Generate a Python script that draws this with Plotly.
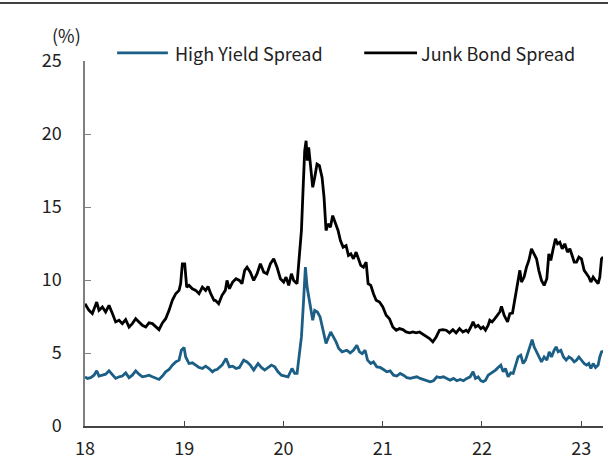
import plotly.graph_objects as go

# Decimal year (18 = 2018) and spread levels in %
hy_years = [
    18.00, 18.024, 18.057, 18.091, 18.118, 18.141, 18.175, 18.208, 18.242, 18.276,
    18.309, 18.343, 18.376, 18.41, 18.444, 18.477, 18.511, 18.544, 18.578, 18.612,
    18.645, 18.679, 18.712, 18.746, 18.78, 18.813, 18.847, 18.88, 18.914, 18.948,
    18.971, 18.998, 19.015, 19.048, 19.082, 19.116, 19.149, 19.183, 19.216, 19.25,
    19.284, 19.307,
    19.33, 19.381, 19.421, 19.455, 19.488, 19.522, 19.556, 19.599, 19.633, 19.666,
    19.70, 19.744, 19.777, 19.811, 19.845, 19.878, 19.912, 19.945, 19.979, 20.013,
    20.046, 20.086, 20.113, 20.137, 20.16, 20.181, 20.201, 20.221, 20.238, 20.254,
    20.275, 20.295, 20.315, 20.342, 20.369, 20.389, 20.409, 20.429, 20.449, 20.476,
    20.503, 20.53, 20.557, 20.591,
    20.638, 20.672, 20.705, 20.739, 20.766, 20.793, 20.823, 20.847, 20.88, 20.907,
    20.941, 20.974, 21.008, 21.041, 21.075, 21.109, 21.142, 21.176, 21.209, 21.243,
    21.277, 21.31, 21.344, 21.377, 21.411, 21.445, 21.478, 21.512, 21.545, 21.579,
    21.613, 21.646, 21.68, 21.713, 21.747, 21.781, 21.814, 21.848, 21.881,
    21.911, 21.935, 21.962, 21.989, 22.012, 22.036, 22.063, 22.09, 22.113, 22.137,
    22.163, 22.19, 22.214, 22.237, 22.264, 22.291, 22.315, 22.338, 22.365, 22.392,
    22.415, 22.439, 22.466, 22.493, 22.506, 22.526, 22.55, 22.573, 22.6, 22.627,
    22.654, 22.678, 22.701, 22.728, 22.748, 22.768, 22.795, 22.822, 22.849, 22.876,
    22.903, 22.93, 22.953, 22.977, 23.003, 23.03, 23.054, 23.077, 23.098, 23.121,
    23.145, 23.171, 23.188, 23.205, 23.222,
]
hy_spread = [
    3.37, 3.26, 3.31, 3.48, 3.78, 3.42, 3.48, 3.55, 3.78, 3.48,
    3.26, 3.37, 3.42, 3.64, 3.31, 3.48, 3.78, 3.55, 3.37, 3.42,
    3.48, 3.37, 3.26, 3.19, 3.42, 3.71, 3.87, 4.17, 4.39, 4.51,
    5.19, 5.37, 4.73, 4.28, 4.33, 4.17, 4.01, 3.94, 4.10, 3.94,
    3.71, 3.83,
    3.87, 4.17, 4.62, 4.05, 4.10, 3.94, 4.01, 4.51, 4.39, 4.17,
    3.83, 4.28, 4.01, 3.83, 4.01, 4.17, 4.05, 3.71, 3.48, 3.42,
    3.37, 3.94, 3.60, 3.60, 4.96, 6.10, 8.38, 10.88, 9.52, 8.83,
    7.92, 7.24, 7.92, 7.81, 7.47, 6.78, 6.33, 5.65, 5.99, 6.44,
    6.10, 5.76, 5.31, 5.08,
    5.19, 5.01, 5.19, 5.53, 5.08, 4.96, 5.19, 4.51, 4.28, 4.39,
    4.05, 4.01, 3.87, 3.71, 3.78, 3.48, 3.42, 3.60, 3.48, 3.31,
    3.26, 3.31, 3.37, 3.26, 3.19, 3.10, 3.03, 3.10, 3.37, 3.31,
    3.37, 3.26, 3.14, 3.26, 3.10, 3.19, 3.10, 3.26, 3.37,
    3.71, 3.26, 3.37, 3.10, 3.03, 3.14, 3.48, 3.60, 3.71, 3.83,
    4.01, 4.17, 3.71, 3.94, 3.37, 3.64, 3.60, 4.17, 4.73, 4.85,
    4.28, 4.51, 5.08, 5.65, 5.92, 5.42, 5.08, 4.73, 4.39, 4.73,
    4.51, 5.08, 4.73, 5.19, 5.42, 5.08, 5.19, 4.73, 4.51, 4.73,
    4.62, 4.39, 4.51, 4.73, 4.51, 4.28, 4.17, 4.28, 3.94, 4.28,
    4.01, 4.17, 4.73, 5.08, 5.12,
]

junk_years = [
    18.00, 18.04, 18.074, 18.118, 18.141, 18.175, 18.208, 18.242, 18.276, 18.309,
    18.343, 18.376, 18.41, 18.444, 18.477, 18.511, 18.544, 18.578, 18.612, 18.645,
    18.679, 18.712, 18.746, 18.78, 18.813, 18.847, 18.88, 18.914, 18.948, 18.964,
    18.981, 19.005, 19.025, 19.048, 19.082, 19.116, 19.149, 19.183, 19.216, 19.24,
    19.267, 19.30,
    19.314, 19.347, 19.381, 19.414, 19.431, 19.455, 19.488, 19.522, 19.556, 19.582,
    19.609, 19.633, 19.666, 19.70, 19.734, 19.767, 19.801, 19.834, 19.868, 19.902,
    19.935, 19.969, 20.002, 20.026, 20.053, 20.08, 20.103, 20.137, 20.16, 20.181,
    20.197, 20.214, 20.228, 20.241, 20.254, 20.271, 20.295, 20.315, 20.338, 20.362,
    20.389, 20.409, 20.429, 20.449, 20.473, 20.496, 20.523, 20.55, 20.574, 20.601,
    20.631, 20.655, 20.679, 20.705, 20.732, 20.756, 20.779, 20.806, 20.833, 20.853,
    20.88, 20.907, 20.934, 20.968, 21.001, 21.035, 21.068, 21.102, 21.136, 21.169,
    21.203, 21.236, 21.27, 21.304, 21.337, 21.371, 21.404, 21.438, 21.472, 21.505,
    21.539, 21.572, 21.606, 21.64, 21.673, 21.707, 21.74, 21.774, 21.808, 21.841,
    21.861, 21.888, 21.911, 21.935, 21.962, 21.989, 22.012, 22.036, 22.063, 22.079,
    22.103, 22.13, 22.157, 22.18, 22.197, 22.224, 22.258, 22.281, 22.308, 22.331,
    22.358, 22.382, 22.399, 22.425, 22.449, 22.473, 22.499, 22.523, 22.55, 22.573,
    22.6, 22.627, 22.654, 22.674, 22.694, 22.718, 22.741, 22.762, 22.785, 22.809,
    22.835, 22.862, 22.886, 22.909, 22.93, 22.953, 22.977, 23.003, 23.03, 23.054,
    23.077, 23.098, 23.121, 23.145, 23.171, 23.188, 23.205, 23.222,
]
junk_spread = [
    8.38, 7.92, 7.70, 8.49, 7.92, 8.15, 7.81, 8.26, 7.70, 7.13,
    7.24, 7.01, 7.29, 6.78, 7.01, 7.35, 7.13, 6.90, 6.78, 7.06,
    7.01, 6.78, 6.60, 7.06, 7.35, 7.92, 8.61, 9.06, 9.29, 9.75,
    11.11, 11.11, 9.52, 9.63, 9.40, 9.29, 9.06, 9.52, 9.29, 9.56,
    9.06, 8.61,
    8.61, 8.38, 8.95, 9.29, 9.97, 9.40, 9.86, 10.09, 9.97, 9.75,
    10.66, 10.88, 10.54, 9.97, 10.43, 11.11, 10.54, 10.43, 11.11, 11.45,
    10.88, 10.09, 9.86, 10.20, 9.63, 10.43, 9.97, 9.75, 11.57, 13.39,
    16.12, 18.85, 19.54, 18.17, 19.08, 17.71, 16.35, 17.03, 17.94, 17.83,
    17.03, 15.66, 13.39, 13.85, 13.61, 14.41, 13.95, 13.39, 12.70, 12.25,
    12.36, 11.68, 11.79, 11.45, 11.91, 11.45, 11.00, 10.88, 11.22, 9.75,
    9.63, 9.06, 8.61, 8.49, 8.15, 7.58, 7.35, 6.78, 6.56, 6.67,
    6.60, 6.44, 6.38, 6.44, 6.38, 6.44, 6.28, 6.15, 5.99, 5.76,
    6.10, 6.56, 6.60, 6.56, 6.38, 6.60, 6.38, 6.67, 6.44, 6.56,
    6.44, 6.78, 7.13, 6.78, 6.90, 6.67, 6.78, 6.56, 6.90, 7.24,
    7.13, 7.35, 7.58, 7.81, 8.20, 7.58, 7.13, 7.70, 7.74, 8.61,
    9.75, 10.66, 9.86, 10.20, 10.88, 11.34, 12.14, 11.79, 11.45, 10.66,
    9.97, 9.63, 10.09, 11.79, 11.34, 12.14, 12.82, 12.48, 12.59, 12.14,
    12.48, 11.91, 12.14, 11.68, 11.22, 11.22, 11.57, 11.45, 10.66, 10.43,
    10.20, 9.86, 10.20, 9.97, 9.75, 10.20, 11.45, 11.57,
]

series_names = ["High Yield Spread", "Junk Bond Spread"]
series_colors = ["#1b5e86", "#000000"]

x_ticks = [18, 19, 20, 21, 22, 23]
x_tick_labels = ["18", "19", "20", "21", "22", "23"]
y_ticks = [0, 5, 10, 15, 20, 25]

FONT = "Noto Sans CJK KR"
TEXT = "#222222"

fig = go.Figure()
for xs, ys, name, color in zip([hy_years, junk_years], [hy_spread, junk_spread],
                               series_names, series_colors):
    fig.add_trace(go.Scatter(
        x=xs, y=ys, mode="lines", name=name,
        line=dict(color=color, width=2.8),
    ))

# Key above the plot: a short line sample followed by the series name
key_line_x = [(0.062, 0.160), (0.539, 0.641)]
key_text_x = [0.170, 0.645]
key_y = 1.022

shapes = [dict(
    type="line", xref="paper", yref="paper",
    x0=-0.2, x1=1.05, y0=1.159, y1=1.159,
    line=dict(color="#000000", width=1.5),
)]
annotations = [dict(
    text="(%)", xref="paper", yref="paper", x=-0.035, y=1.072,
    xanchor="center", yanchor="middle", showarrow=False,
    font=dict(family=FONT, size=18, color=TEXT),
)]
for (x0, x1), tx, name, color in zip(key_line_x, key_text_x, series_names, series_colors):
    shapes.append(dict(
        type="line", xref="paper", yref="paper",
        x0=x0, x1=x1, y0=key_y, y1=key_y,
        line=dict(color=color, width=2.8),
    ))
    annotations.append(dict(
        text=name, xref="paper", yref="paper", x=tx, y=key_y,
        xanchor="left", yanchor="middle", showarrow=False,
        font=dict(family=FONT, size=18, color=TEXT),
    ))

fig.update_layout(
    width=608, height=471,
    margin=dict(l=85, r=5, t=61, b=45),
    paper_bgcolor="white", plot_bgcolor="white",
    font=dict(family=FONT, size=18, color=TEXT),
    showlegend=False,
    xaxis=dict(
        range=[18, 23.22], tickvals=x_ticks, ticktext=x_tick_labels,
        ticks="inside", ticklen=5, tickcolor="#444444", tickwidth=1,
        showline=True, linecolor="#444444", linewidth=1.5,
        showgrid=False, zeroline=False, ticklabelstandoff=6,
        tickfont=dict(family=FONT, size=18, color=TEXT),
    ),
    yaxis=dict(
        range=[0, 25], tickvals=y_ticks,
        ticks="inside", ticklen=6, tickcolor="#7f7f7f", tickwidth=1,
        showline=True, linecolor="#7f7f7f", linewidth=1.5,
        showgrid=False, zeroline=False, ticklabelstandoff=18,
        tickfont=dict(family=FONT, size=18, color=TEXT),
    ),
    annotations=annotations,
    shapes=shapes,
)

fig.write_html("out.html")
